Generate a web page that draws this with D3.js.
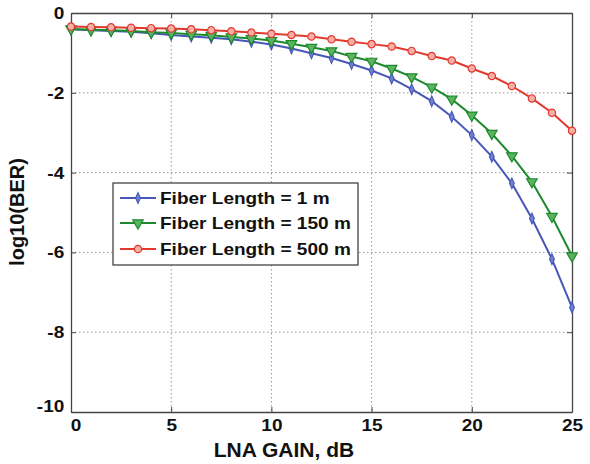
<!DOCTYPE html>
<html><head><meta charset="utf-8">
<script src="https://cdn.jsdelivr.net/npm/d3@7"></script>
<style>body{margin:0;background:#fff}svg{display:block}text{font-family:"Liberation Sans",Arial,sans-serif;font-weight:bold;fill:#111}</style>
</head><body><div id="chart"></div>
<script>
const gain = d3.range(0, 26);
const ber1m = [-0.41,-0.43,-0.45,-0.47,-0.51,-0.55,-0.59,-0.62,-0.66,-0.72,-0.79,-0.89,-1.01,-1.13,-1.28,-1.44,-1.64,-1.91,-2.21,-2.60,-3.06,-3.60,-4.27,-5.15,-6.17,-7.38];
const ber150m = [-0.40,-0.42,-0.43,-0.45,-0.48,-0.50,-0.53,-0.56,-0.60,-0.64,-0.69,-0.77,-0.86,-0.95,-1.09,-1.21,-1.39,-1.60,-1.86,-2.16,-2.56,-3.02,-3.58,-4.23,-5.10,-6.09];
const ber500m = [-0.34,-0.35,-0.36,-0.37,-0.38,-0.39,-0.41,-0.43,-0.46,-0.49,-0.52,-0.55,-0.59,-0.66,-0.72,-0.78,-0.84,-0.95,-1.08,-1.19,-1.39,-1.58,-1.83,-2.14,-2.50,-2.95];
const seriesNames = ["Fiber Length = 1 m","Fiber Length = 150 m","Fiber Length = 500 m"];
const xTicks = [0,5,10,15,20,25];
const yTicks = [0,-2,-4,-6,-8,-10];

const W=590,H=464;
const L=71,R=572,T=13,B=412;
const svg=d3.select("#chart").append("svg").attr("width",W).attr("height",H);
const x=d3.scaleLinear().domain([0,25]).range([L,R]);
const y=d3.scaleLinear().domain([-10,0]).range([B,T]);
const fmt=d=>String(d);

// grid
const grid=svg.append("g").attr("stroke","#9a9a9a").attr("stroke-width",1).attr("stroke-dasharray","1.5,2.5");
grid.selectAll(".gx").data(xTicks.slice(1,-1)).join("line").attr("x1",d=>x(d)).attr("x2",d=>x(d)).attr("y1",T).attr("y2",B);
grid.selectAll(".gy").data(yTicks.slice(1,-1)).join("line").attr("y1",d=>y(d)).attr("y2",d=>y(d)).attr("x1",L).attr("x2",R);

// axes
const ax=svg.append("g").attr("transform",`translate(0,${B})`).call(d3.axisBottom(x).tickValues(xTicks).tickFormat(fmt).tickSizeInner(-5).tickSizeOuter(0).tickPadding(7));
const ay=svg.append("g").attr("transform",`translate(${L},0)`).call(d3.axisLeft(y).tickValues(yTicks).tickFormat(fmt).tickSizeInner(-5).tickSizeOuter(0).tickPadding(6));
const at=svg.append("g").attr("transform",`translate(0,${T})`).call(d3.axisTop(x).tickValues(xTicks).tickSizeInner(-5).tickSizeOuter(0).tickFormat(""));
const ar=svg.append("g").attr("transform",`translate(${R},0)`).call(d3.axisRight(y).tickValues(yTicks).tickSizeInner(-5).tickSizeOuter(0).tickFormat(""));
[ax,ay,at,ar].forEach(g=>{g.select(".domain").attr("stroke","#444").attr("stroke-width",1.3);g.selectAll(".tick line").attr("stroke","#444");});
[ax,ay].forEach(g=>g.selectAll("text").attr("font-size",17).attr("font-family","Liberation Sans, Arial").attr("font-weight","bold").attr("fill","#111").attr("transform","scale(1.12,1)"));
ay.selectAll(".tick").filter(d=>d===-10).select("text").attr("dy","-0.05em");
ax.selectAll(".tick").filter(d=>d===0).select("text").attr("dx","4");

// series
const colors=["#4657b8","#1c8a2c","#e2392f"];
const fills=["#6f7fd0","#5cb35f","#f3b0a8"];
const data=[ber1m,ber150m,ber500m];
const sym=[d3.symbolDiamond,d3.symbolTriangle,d3.symbolCircle];
const line=d3.line().x((d,i)=>x(gain[i])).y(d=>y(d));
data.forEach((vals,k)=>{
  svg.append("path").datum(vals).attr("d",line).attr("fill","none").attr("stroke",colors[k]).attr("stroke-width",2);
  svg.append("g").selectAll("path").data(vals).join("path")
    .attr("d",d3.symbol().type(sym[k]).size(k===0?28:(k===1?48:42)))
    .attr("transform",(d,i)=>`translate(${x(gain[i])},${y(d)})${k===1?" rotate(180)":""}${k===0?" scale(0.85,1.1)":""}`)
    .attr("fill",fills[k]).attr("stroke",colors[k]).attr("stroke-width",1.2);
});

// legend
const lg=svg.append("g");
lg.append("rect").attr("x",113).attr("y",183).attr("width",245).attr("height",82).attr("fill","#fff").attr("stroke","#444").attr("stroke-width",1.3);
const rowsY=[198,223,249];
seriesNames.forEach((n,k)=>{
  lg.append("line").attr("x1",120).attr("x2",156).attr("y1",rowsY[k]).attr("y2",rowsY[k]).attr("stroke",colors[k]).attr("stroke-width",2);
  lg.append("path").attr("d",d3.symbol().type(sym[k]).size(k===0?28:(k===1?48:42)))
    .attr("transform",`translate(138,${rowsY[k]})${k===1?" rotate(180)":""}${k===0?" scale(0.85,1.1)":""}`)
    .attr("fill",fills[k]).attr("stroke",colors[k]).attr("stroke-width",1.2);
  lg.append("text").attr("transform",`translate(160,${rowsY[k]}) scale(1.12,1)`).attr("dy","0.36em").attr("font-size",17).text(n);
});

// labels
svg.append("text").attr("x",284).attr("y",457).attr("text-anchor","middle").attr("font-size",21).text("LNA GAIN, dB");
svg.append("text").attr("transform","translate(24,212) rotate(-90)").attr("text-anchor","middle").attr("font-size",20).text("log10(BER)");
</script></body></html>
